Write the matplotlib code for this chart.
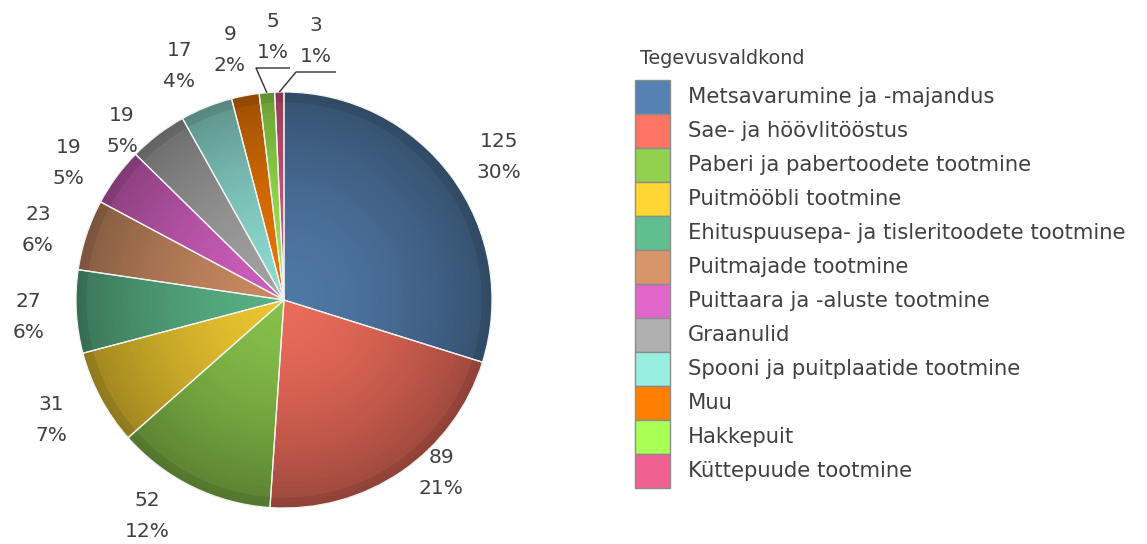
import numpy as np
import matplotlib
matplotlib.use("Agg")
import matplotlib.pyplot as plt
from matplotlib.colors import to_rgb
from matplotlib.patches import Rectangle

# ---------- andmed ----------
categories = [
    "Metsavarumine ja -majandus",
    "Sae- ja höövlitööstus",
    "Paberi ja pabertoodete tootmine",
    "Puitmööbli tootmine",
    "Ehituspuusepa- ja tisleritoodete tootmine",
    "Puitmajade tootmine",
    "Puittaara ja -aluste tootmine",
    "Graanulid",
    "Spooni ja puitplaatide tootmine",
    "Muu",
    "Hakkepuit",
    "Küttepuude tootmine",
]
values = [125, 89, 52, 31, 27, 23, 19, 19, 17, 9, 5, 3]
pct_labels = ["30%", "21%", "12%", "7%", "6%", "6%", "5%", "5%", "4%", "2%", "1%", "1%"]
base_colors = ["#5682b3", "#ff7462", "#92d050", "#ffd633", "#5fbf8f", "#d9956a",
               "#e066cc", "#b0b0b0", "#99eee2", "#ff8000", "#aaff55", "#f06090"]
legend_title = "Tegevusvaldkond"

# sildi asukoht: kaugus (R ühikutes) ja nurganihe (kraadides), Exceli "best fit" järgi
label_r = [1.24, 1.125, 1.23, 1.26, 1.23, 1.23, 1.23, 1.125, 1.23, 1.23]
label_nudge = [-2.7, 7.8, -6.2, -0.8, 0.6, 2.4, 3.8, 6.4, 2.2, 1.5]
# kaks väikest viilu: silt üles, juhtjoonega (nihe keskpunktist px)
leader_dx = [-11, 32]
leader_dy = [263, 259]
leader_half = [17, 20]

W, H = 1147, 544
FONT = ["DejaVu Sans"]
TXT = "#404040"
FS = 15.2

fig = plt.figure(figsize=(W / 100, H / 100), dpi=100)
ax = fig.add_axes([0, 0, 1, 1])

cx, cy, R = 284, H - 300, 208


def shade(c, k):
    r, g, b = to_rgb(c)
    return (r * k, g * k, b * k)


# radiaalne gradient: kihid servast keskele
n_layers = 40
for i in range(n_layers):
    t = 1 - i / n_layers               # 1 = serv, 0 = keskpunkt
    k = 0.92 - 0.3 * t ** 1.6
    if t > 0.97:
        k -= 0.05
    ax.pie(values, radius=R * t, center=(cx, cy), startangle=90, counterclock=False,
           colors=[shade(c, k) for c in base_colors],
           wedgeprops=dict(linewidth=0))

# viilude piirjooned
wedges, _ = ax.pie(values, radius=R, center=(cx, cy), startangle=90, counterclock=False,
                   colors=["none"] * len(values),
                   wedgeprops=dict(linewidth=0.9, edgecolor="#f2f2f2"))

# sildid
n_big = len(label_r)
for i, w in enumerate(wedges):
    mid = np.deg2rad((w.theta1 + w.theta2) / 2)
    lab = f"{values[i]}\n{pct_labels[i]}"
    if i < n_big:
        a = mid + np.deg2rad(label_nudge[i])
        tx = cx + label_r[i] * R * np.cos(a)
        ty = cy + label_r[i] * R * np.sin(a)
    else:
        j = i - n_big
        tx = cx + leader_dx[j]
        ty = cy + leader_dy[j]
        ex = cx + R * np.cos(mid)
        ey = cy + R * np.sin(mid)
        half = leader_half[j]
        ax.plot([ex, tx - half, tx + half], [ey, ty - 31, ty - 31],
                color="#303030", lw=1.0, solid_capstyle="butt")
    ax.text(tx, ty, lab, ha="center", va="center", fontsize=14.5, color=TXT,
            family=FONT, linespacing=1.8)

# legend
lx, ly0, bw, bh = 635, H - 80, 35, 34
ax.text(640, H - 58, legend_title, ha="left", va="center", fontsize=13.8,
        color=TXT, family=FONT)
for i, (cat, col) in enumerate(zip(categories, base_colors)):
    y = ly0 - i * bh
    ax.add_patch(Rectangle((lx, y - bh), bw, bh, facecolor=col,
                           edgecolor="#8c8c8c", lw=1.0))
    ax.text(688, y - bh / 2, cat, ha="left", va="center", fontsize=FS,
            color=TXT, family=FONT)

ax.set_xlim(0, W)
ax.set_ylim(0, H)
ax.set_aspect("equal")
ax.axis("off")
fig.savefig("out.png", dpi=100, facecolor="white")
